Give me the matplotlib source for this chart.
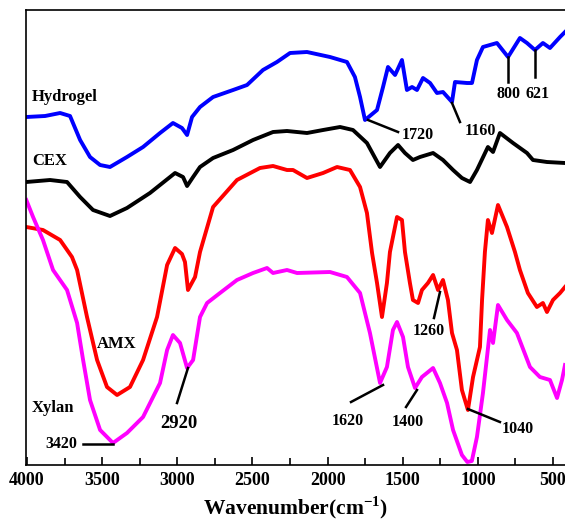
import matplotlib
matplotlib.use("Agg")
import matplotlib.pyplot as plt
from matplotlib.ticker import MultipleLocator

plt.rcParams['font.family'] = ['Liberation Serif', 'DejaVu Serif']
plt.rcParams['font.weight'] = 'bold'
plt.rcParams['mathtext.fontset'] = 'custom'
plt.rcParams['mathtext.rm'] = 'Liberation Serif:bold'
plt.rcParams['mathtext.bf'] = 'Liberation Serif:bold'

# spectra (wavenumber, arbitrary transmittance)
hydrogel_wn = [4005, 3880, 3780, 3714, 3647, 3581, 3514, 3448, 3335, 3228, 3115, 3029,
               2969, 2935, 2902, 2849, 2762, 2629, 2536, 2430, 2337, 2250, 2137, 1984,
               1871, 1818, 1784, 1751, 1671, 1631, 1598, 1551, 1505, 1472, 1438, 1405,
               1365, 1318, 1272, 1232, 1172, 1152, 1072, 1039, 1006, 966, 873, 799,
               720, 673, 620, 567, 520, 453, 420]
hydrogel_t = [348, 349, 352, 349, 325, 308, 300, 298, 308, 318, 332, 342,
              337, 330, 348, 358, 368, 375, 380, 395, 403, 412, 413, 408,
              403, 388, 368, 345, 355, 378, 398, 390, 405, 375, 378, 375,
              387, 382, 372, 373, 363, 383, 382, 382, 405, 418, 422, 408,
              427, 422, 415, 422, 417, 428, 433]

cex_wn = [4005, 3847, 3734, 3647, 3561, 3448, 3335, 3182, 3015, 2962, 2935, 2895,
          2849, 2762, 2629, 2496, 2363, 2270, 2137, 2030, 1917, 1831, 1738, 1651,
          1585, 1531, 1485, 1432, 1385, 1298, 1232, 1165, 1106, 1052, 1006, 933,
          899, 853, 766, 673, 633, 540, 420]
cex_t = [283, 285, 283, 268, 255, 249, 257, 272, 292, 288, 279, 288,
         298, 307, 315, 325, 333, 334, 332, 335, 338, 335, 322, 298,
         312, 320, 312, 305, 308, 312, 305, 295, 287, 283, 295, 318,
         313, 332, 322, 312, 305, 303, 302]

amx_wn = [4005, 3894, 3780, 3701, 3667, 3601, 3534, 3468, 3401, 3315, 3228, 3135,
          3068, 3015, 2969, 2949, 2929, 2882, 2849, 2762, 2603, 2450, 2363, 2270,
          2230, 2137, 2030, 1937, 1851, 1784, 1738, 1704, 1671, 1638, 1605, 1585,
          1538, 1505, 1485, 1452, 1432, 1398, 1372, 1332, 1298, 1265, 1232, 1199,
          1172, 1139, 1106, 1066, 1032, 986, 972, 953, 933, 906, 866, 806,
          753, 720, 667, 607, 567, 540, 500, 453, 420]
amx_t = [238, 235, 225, 208, 195, 148, 105, 78, 70, 78, 105, 148,
         200, 217, 211, 203, 175, 188, 213, 258, 285, 297, 299, 295,
         295, 287, 292, 298, 295, 278, 252, 212, 182, 148, 182, 213,
         248, 245, 213, 182, 165, 162, 175, 182, 190, 175, 185, 165,
         132, 115, 75, 55, 88, 118, 165, 213, 245, 232, 260, 238,
         213, 195, 172, 158, 162, 153, 165, 172, 178]

xylan_wn = [4005, 3960, 3894, 3827, 3734, 3667, 3627, 3581, 3514, 3428, 3335, 3228,
            3115, 3068, 3029, 2982, 2935, 2895, 2849, 2802, 2716, 2603, 2496, 2403,
            2363, 2270, 2203, 1984, 1871, 1784, 1718, 1651, 1605, 1565, 1538, 1498,
            1465, 1418, 1372, 1298, 1252, 1205, 1165, 1106, 1070, 1040, 1006, 966, 919,
            899, 866, 806, 740, 653, 587, 520, 473, 440, 420]
xylan_t = [265, 248, 225, 195, 175, 142, 105, 65, 35, 22, 32, 48,
           82, 115, 130, 122, 97, 105, 148, 162, 172, 185, 192, 197,
           192, 195, 192, 193, 188, 172, 132, 82, 98, 135, 143, 128,
           98, 77, 88, 97, 82, 62, 35, 10, 3, 4, 28, 72, 135,
           122, 160, 145, 132, 98, 88, 85, 67, 85, 100]

# curve names
names = ['Hydrogel', 'CEX', 'AMX', 'Xylan']
name_x = [3967, 3967, 3401, 3967]
name_y = [368, 304, 121, 57]
name_ha = ['left', 'left', 'center', 'left']

# peak labels: text position, leader line ends
peak_txt = ['3420', '2920', '1720', '1160', '800', '621', '1620', '1400', '1260', '1040']
peak_tx = [3774, 2989, 1398, 986, 799, 600, 1864, 1465, 1325, 733]
peak_ty = [21, 41, 330, 334, 371, 371, 44, 43, 134, 36]
line_x0 = [3627, 3002, 1731, 1172, 799, 620, 1844, 1478, 1292, 1066]
line_y0 = [21, 62, 345, 362, 408, 415, 63, 58, 147, 56]
line_x1 = [3428, 2929, 1531, 1119, 799, 620, 1631, 1405, 1252, 853]
line_y1 = [21, 97, 333, 343, 383, 388, 80, 75, 173, 43]

fig = plt.figure(figsize=(5.65, 5.26), dpi=100)
ax = fig.add_axes([26 / 565, 61 / 526, 539 / 565, 455 / 526])

lw = 2.8
ax.plot(hydrogel_wn, hydrogel_t, color='#0000ff', lw=lw)
ax.plot(cex_wn, cex_t, color='black', lw=lw)
ax.plot(amx_wn, amx_t, color='#ff0000', lw=lw)
ax.plot(xylan_wn, xylan_t, color='#ff00ff', lw=lw)

for n, x, y, ha in zip(names, name_x, name_y, name_ha):
    ax.text(x, y, n, fontsize=12, fontweight='bold', ha=ha, va='center')

for i, t in enumerate(peak_txt):
    ax.plot([line_x0[i], line_x1[i]], [line_y0[i], line_y1[i]], color='black', lw=1.8)
    fs = 13.5 if t == '2920' else 11.5
    ax.text(peak_tx[i], peak_ty[i], t, fontsize=fs, fontweight='bold', ha='center', va='center')

ax.set_xlim(4007, 420)
ax.set_ylim(0, 455)
ax.xaxis.set_major_locator(MultipleLocator(500))
ax.xaxis.set_minor_locator(MultipleLocator(250))
ax.tick_params(axis='x', which='both', direction='in', top=False, labelsize=13, width=1.2, pad=5)
ax.tick_params(axis='x', which='major', length=6)
ax.tick_params(axis='x', which='minor', length=5)
ax.set_yticks([])
ax.spines['right'].set_visible(False)
for s in ['left', 'bottom', 'top']:
    ax.spines[s].set_linewidth(1.2)
for lab in ax.get_xticklabels():
    lab.set_fontweight('bold')

ax.set_xlabel(r'Wavenumber(cm$^{-1}$)', fontsize=15.5, fontweight='bold', labelpad=4)

fig.savefig('out.png', dpi=100)
